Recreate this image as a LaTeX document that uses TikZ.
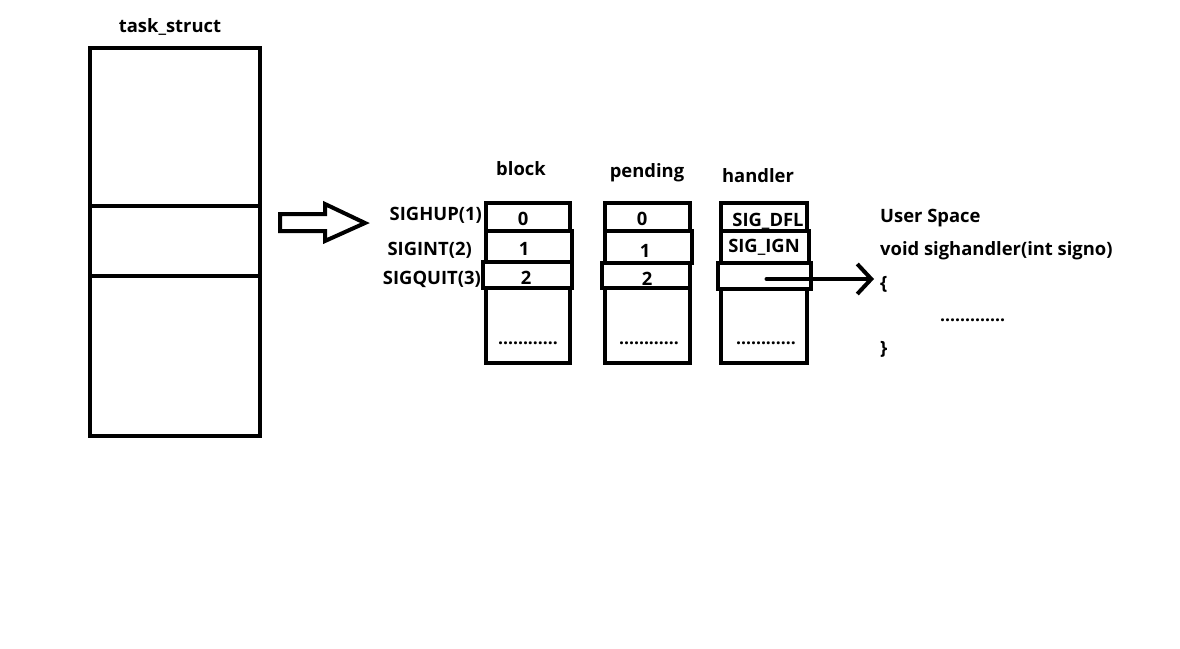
\documentclass[tikz,border=0pt]{standalone}
\usepackage{fontspec}
\setmainfont{Open Sans}
\usetikzlibrary{arrows.meta}
\begin{document}
\begin{tikzpicture}[x=1pt,y=-1pt,
  box/.style={draw=black, line width=4pt, inner sep=0pt, outer sep=0pt, fill=none},
  lbl/.style={font=\fontsize{18.4}{21}\selectfont\bfseries, inner sep=0pt, anchor=base},
  lbll/.style={lbl, anchor=base west},
  lblr/.style={lbl, anchor=base east},
  dotsl/.style={font=\fontsize{17.5}{20}\selectfont\bfseries, inner sep=0pt, anchor=base}
]
\useasboundingbox[fill=white] (0,0) rectangle (1180,648);

% task_struct
\node[lbl] (tstitle) at (170,32) {task\_struct};
\node[box, minimum width=170, minimum height=158] (t1) at (175,127) {};
\node[box, minimum width=170, minimum height=70] (t2) at (175,241) {};
\node[box, minimum width=170, minimum height=160] (t3) at (175,356) {};

% hollow arrow
\draw[line width=4pt, line join=miter] (280,214) -- (325,214) -- (325,204) -- (365,223) -- (325,241) -- (325,231) -- (280,231) -- cycle;

% titles
\node[lbl] (blocktitle) at (521,175) {block};
\node[lbl] (pendtitle) at (647,177) {pending};
\node[lbl] (handtitle) at (758,182) {handler};

% signal names
\node[lblr] (sighup) at (482,220) {SIGHUP(1)};
\node[lblr] (sigint) at (472,255) {SIGINT(2)};
\node[lblr] (sigquit) at (481,284) {SIGQUIT(3)};

% text in cells (drawn first so borders overlay)
\node[lbl] (b1t) at (523,225) {0};
\node[lbl] (b2t) at (524,255) {1};
\node[lbl] (b3t) at (526,284) {2};
\node[dotsl] (b4t) at (528,344) {............};
\node[lbl] (p1t) at (642,225) {0};
\node[lbl] (p2t) at (645,257) {1};
\node[lbl] (p3t) at (647,285) {2};
\node[dotsl] (p4t) at (649,344) {............};
\node[lbl] (h1t) at (768,226) {SIG\_DFL};
\node[lbl] (h2t) at (764,252) {SIG\_IGN};
\node[dotsl] (h4t) at (766,344) {............};

% block column
\node[box, minimum width=84, minimum height=28] (b1) at (528,217) {};
\node[box, minimum width=86, minimum height=31] (b2) at (529,246.5) {};
\node[box, minimum width=89, minimum height=26] (b3) at (527.5,275) {};
\node[box, minimum width=84, minimum height=75] (b4) at (528,325.5) {};

% pending column
\node[box, minimum width=85, minimum height=28] (p1) at (647.5,217) {};
\node[box, minimum width=87, minimum height=32] (p2) at (648.5,247) {};
\node[box, minimum width=88, minimum height=25] (p3) at (646,275.5) {};
\node[box, minimum width=85, minimum height=75] (p4) at (647.5,325.5) {};

% handler column
\node[box, minimum width=86, minimum height=28] (h1) at (764,217) {};
\node[box, minimum width=88, minimum height=32] (h2) at (765,247) {};
\node[box, minimum width=93, minimum height=26] (h3) at (764.5,276) {};
\node[box, minimum width=86, minimum height=74] (h4) at (764,326) {};

% user space
\node[lbll] (us) at (880,222) {User Space};
\node[lbll] (func) at (880,255) {void sighandler(int signo)};
\node[lbll] (lbrace) at (880,289) {\{};
\node[dotsl, anchor=base west] (udots) at (940,321) {.............};
\node[lbll] (rbrace) at (880,354) {\}};

% handler arrow
\coordinate (hstart) at ([xshift=2pt,yshift=-3pt]h3.center);
\coordinate (htip) at (874,279);
\draw[line width=4pt, line cap=round, -{Straight Barb[length=14pt,width=30pt,line width=4pt]}] (hstart) -- (htip);
\end{tikzpicture}
\end{document}
